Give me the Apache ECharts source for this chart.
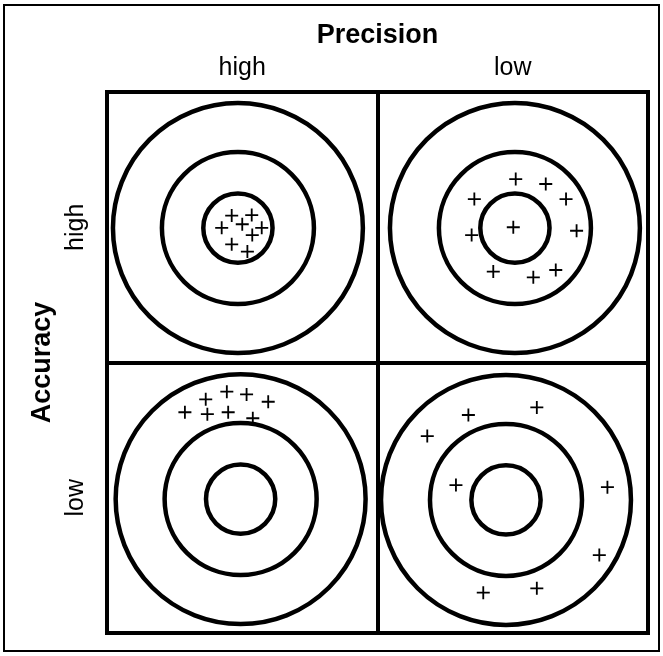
<!DOCTYPE html>
<html>
<head>
<meta charset="utf-8">
<script src="https://cdn.jsdelivr.net/npm/echarts@6/dist/echarts.min.js"></script>
<style>
  html, body { margin: 0; padding: 0; background: #fff; }
  #chart { width: 663px; height: 656px; }
</style>
</head>
<body>
<div id="chart"></div>
<script>
// axis labels
const precisionLabels = ['high', 'low'];
const accuracyLabels = ['high', 'low'];

// each panel is 100 units wide, the whole board 200 x 200 (y grows downwards)
const ringRadii = [46.2, 28.1, 12.8];
const targetCenters = [
  [48.4, 50.3],   // high accuracy, high precision
  [150.8, 50.3],  // high accuracy, low precision
  [49.4, 150.5],  // low accuracy, high precision
  [147.5, 150.8]  // low accuracy, low precision
];

// hits
const shotsHighHigh = [
  [46.1, 45.7], [53.5, 45.5], [42.4, 50.2], [50.0, 48.9],
  [57.2, 50.2], [53.7, 52.9], [46.1, 56.3], [51.9, 59.0]
];
const shotsHighLow = [
  [151.1, 32.2], [162.2, 34.0], [135.8, 39.6], [169.7, 39.6], [150.2, 50.0],
  [134.8, 52.9], [173.6, 51.3], [142.8, 66.4], [157.6, 68.5], [165.9, 65.8]
];
const shotsLowHigh = [
  [44.3, 110.8], [51.6, 111.8], [36.5, 113.6], [59.6, 114.5],
  [28.8, 118.4], [37.1, 119.1], [44.8, 118.4], [53.9, 120.6]
];
const shotsLowLow = [
  [158.9, 116.6], [133.6, 119.4], [118.4, 127.2], [129.0, 145.3],
  [185.0, 146.1], [182.0, 171.2], [158.9, 183.5], [139.1, 185.1]
];

var rings = [];
targetCenters.forEach(function (c) {
  ringRadii.forEach(function (r) {
    rings.push([c[0], c[1], r]);
  });
});

var plusPath = 'path://M4.3,0H5.7V4.3H10V5.7H5.7V10H4.3V5.7H0V4.3H4.3Z';

var chart = echarts.init(document.getElementById('chart'));

var option = {
  animation: false,
  backgroundColor: '#fff',
  graphic: [{
    type: 'rect',
    shape: { x: 4, y: 5, width: 655, height: 646 },
    style: { fill: 'none', stroke: '#000', lineWidth: 2 },
    silent: true
  }],
  grid: {
    left: 107, top: 92, width: 541, height: 541,
    show: true, borderColor: '#000', borderWidth: 4, backgroundColor: '#fff'
  },
  xAxis: [
    {
      type: 'value', min: 0, max: 200, interval: 100,
      axisLine: { show: false }, axisTick: { show: false }, axisLabel: { show: false },
      splitLine: { show: true, lineStyle: { color: '#000', width: 4 } }
    },
    {
      type: 'category', position: 'top', data: precisionLabels,
      axisLine: { show: false }, axisTick: { show: false },
      axisLabel: { color: '#000', fontSize: 25, fontFamily: 'Liberation Sans', margin: 11 },
      name: 'Precision', nameLocation: 'middle', nameGap: 43,
      nameTextStyle: { color: '#000', fontSize: 27, fontWeight: 'bold', fontFamily: 'Liberation Sans' }
    }
  ],
  yAxis: [
    {
      type: 'value', min: 0, max: 200, interval: 100, inverse: true,
      axisLine: { show: false }, axisTick: { show: false }, axisLabel: { show: false },
      splitLine: { show: true, lineStyle: { color: '#000', width: 4 } }
    },
    {
      type: 'category', position: 'left', inverse: true, data: accuracyLabels,
      axisLine: { show: false }, axisTick: { show: false },
      axisLabel: { color: '#000', fontSize: 25, fontFamily: 'Liberation Sans', rotate: 90, margin: 18 },
      name: 'Accuracy', nameLocation: 'middle', nameGap: 50, nameRotate: 90,
      nameTextStyle: { color: '#000', fontSize: 27, fontWeight: 'bold', fontFamily: 'Liberation Sans' }
    }
  ],
  series: [
    {
      type: 'custom',
      xAxisIndex: 0, yAxisIndex: 0,
      data: rings,
      silent: true,
      renderItem: function (params, api) {
        var c = api.coord([api.value(0), api.value(1)]);
        var s = api.size([api.value(2), api.value(2)]);
        return {
          type: 'circle',
          shape: { cx: c[0], cy: c[1], r: Math.abs(s[0]) },
          style: { fill: 'none', stroke: '#000', lineWidth: 4.5 }
        };
      }
    }
  ].concat([shotsHighHigh, shotsHighLow, shotsLowHigh, shotsLowLow].map(function (d) {
    return {
      type: 'scatter',
      xAxisIndex: 0, yAxisIndex: 0,
      data: d,
      symbol: plusPath,
      symbolSize: 13,
      itemStyle: { color: '#000', opacity: 1 },
      silent: true
    };
  }))
};

chart.setOption(option);
</script>
</body>
</html>
